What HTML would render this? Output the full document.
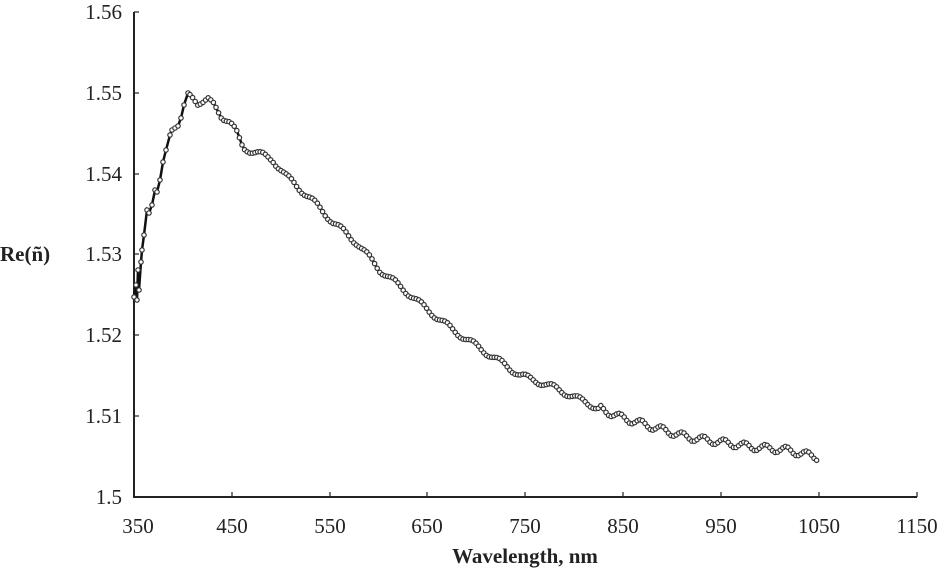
<!DOCTYPE html>
<html><head><meta charset="utf-8"><style>
html,body{margin:0;padding:0;background:#fff;}
svg{display:block;}
text{font-family:"Liberation Serif",serif;fill:#222;}
</style></head><body>
<svg id="s" width="951" height="573" viewBox="0 0 951 573" xmlns="http://www.w3.org/2000/svg">
<g stroke="#222" stroke-width="2" fill="none">
<line x1="134" y1="12" x2="134" y2="497"/>
<line x1="133" y1="497" x2="917" y2="497"/>
</g>
<g stroke="#222" stroke-width="1.2">
<line x1="134" y1="12" x2="139" y2="12"/><line x1="134" y1="93" x2="139" y2="93"/><line x1="134" y1="174" x2="139" y2="174"/><line x1="134" y1="254" x2="139" y2="254"/><line x1="134" y1="335" x2="139" y2="335"/><line x1="134" y1="416" x2="139" y2="416"/>
<line x1="232" y1="497" x2="232" y2="492"/><line x1="330" y1="497" x2="330" y2="492"/><line x1="427" y1="497" x2="427" y2="492"/><line x1="525" y1="497" x2="525" y2="492"/><line x1="623" y1="497" x2="623" y2="492"/><line x1="721" y1="497" x2="721" y2="492"/><line x1="819" y1="497" x2="819" y2="492"/><line x1="917" y1="497" x2="917" y2="492"/>
</g>
<g font-size="21" text-anchor="end">
<text x="122" y="19">1.56</text><text x="122" y="100">1.55</text><text x="122" y="181">1.54</text><text x="122" y="261">1.53</text><text x="122" y="342">1.52</text><text x="122" y="423">1.51</text><text x="122" y="504">1.5</text>
</g>
<g font-size="21" text-anchor="middle">
<text x="138" y="533">350</text><text x="232" y="533">450</text><text x="330" y="533">550</text><text x="427" y="533">650</text><text x="525" y="533">750</text><text x="623" y="533">850</text><text x="721" y="533">950</text><text x="819" y="533">1050</text><text x="917" y="533">1150</text>
</g>
<text x="525" y="563" font-size="21" font-weight="bold" text-anchor="middle">Wavelength, nm</text>
<text x="0" y="261" font-size="21" font-weight="bold">Re(ñ)</text>
<g id="curve"></g>
</svg>
<script>
var pts=[[134,297],[136,285],[137,300],[138,270],[139,290],[141,262],[142,250],[144,235],[147,210],[149,213],[152,205],[155,190],[157,192],[160,180],[163,162],[166,150],[170,135],[172,130],[175,128],[178,126],[181,118],[184,105],[188,93],[193,97],[198,104],[204,102],[208,99],[214,104],[222,118],[230,122],[236,130],[243,148],[258,153],[273,160],[287,177],[310,198],[333,222],[357,243],[380,270],[407,292],[423,306],[453,330],[487,353],[520,375],[553,387],[587,403],[620,417],[653,427],[687,437],[720,442],[753,447],[787,450],[817,457]];
function yAt(x){for(var i=0;i<pts.length-1;i++){if(x<=pts[i+1][0]){var a=pts[i],b=pts[i+1];return a[1]+(b[1]-a[1])*(x-a[0])/(b[0]-a[0]);}}return pts[pts.length-1][1];}
var out=[],d="";
for(var i=0;i<23;i++){out.push(pts[i]);}
for(var x=190;x<=817;x+=2.6){var amp=x>240?(x>600?3.5:2.8):1.5;var y=yAt(x)+amp*Math.sin((x-190)/(x>600?3.3:4.2));out.push([x,y]);}
out.forEach(function(p,i){d+=(i?"L":"M")+p[0].toFixed(1)+" "+p[1].toFixed(1);});
var h='<path d="'+d+'" fill="none" stroke="#111" stroke-width="2.5"/>';
out.forEach(function(p){h+='<circle cx="'+p[0].toFixed(1)+'" cy="'+p[1].toFixed(1)+'" r="2.2" fill="#fff" stroke="#333" stroke-width="1.2"/>';});
document.getElementById("curve").innerHTML=h;
</script>
</body></html>
